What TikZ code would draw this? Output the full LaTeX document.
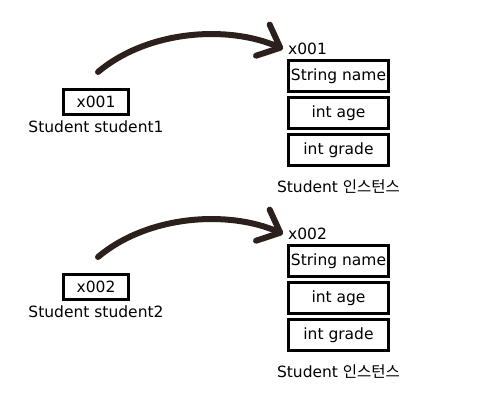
\documentclass[tikz,border=0pt]{standalone}
\usepackage{fontspec}
\setmainfont{DejaVu Sans}
\newfontfamily\kofont{Noto Sans CJK KR}
\usepackage{tikz}
\usetikzlibrary{arrows.meta,positioning}

\definecolor{inkbrown}{HTML}{2B201C}

\begin{document}
\begin{tikzpicture}[x=1pt,y=-1pt,
  font=\fontsize{15.5}{17}\selectfont,
  refbox/.style={draw,line width=\heavy,minimum width=65pt,minimum height=25pt,inner sep=0pt},
  fieldbox/.style={draw,line width=\heavy,minimum width=100pt,minimum height=31pt,inner sep=0pt},
  bigarrow/.style={draw=inkbrown,line width=6pt,line cap=round,
    -{Straight Barb[length=19pt,width=34pt,line cap=round,line join=round]}}]

\def \dy{185}
\def \heavy{3pt}

\useasboundingbox (0,0) rectangle (484,411);

% first reference
\node[refbox] (ref1) at (96,102) {x001};
\node[below=1pt of ref1] (var1) {Student student1};
\coordinate (tail1) at (98,72);

\node[fieldbox] (name1) at (338.5,76) {String name};
\node[fieldbox,below=3pt of name1] (age1) {int age};
\node[fieldbox,below=3pt of age1] (grade1) {int grade};
\node[anchor=south west,inner sep=1pt,yshift=3pt] (addr1) at (name1.north west) {x001};
\node[below=9pt of grade1] (inst1) {Student {\kofont 인스턴스}};

\draw[bigarrow] (tail1) .. controls +(50,-42) and +(-55,-24) .. ([xshift=-4pt]addr1.west);

% second reference
\node[refbox] (ref2) at (96,102+\dy) {x002};
\node[below=1pt of ref2] (var2) {Student student2};
\coordinate (tail2) at (98,72+\dy);

\node[fieldbox] (name2) at (338.5,76+\dy) {String name};
\node[fieldbox,below=3pt of name2] (age2) {int age};
\node[fieldbox,below=3pt of age2] (grade2) {int grade};
\node[anchor=south west,inner sep=1pt,yshift=3pt] (addr2) at (name2.north west) {x002};
\node[below=9pt of grade2] (inst2) {Student {\kofont 인스턴스}};

\draw[bigarrow] (tail2) .. controls +(50,-42) and +(-55,-24) .. ([xshift=-4pt]addr2.west);

\end{tikzpicture}
\end{document}
